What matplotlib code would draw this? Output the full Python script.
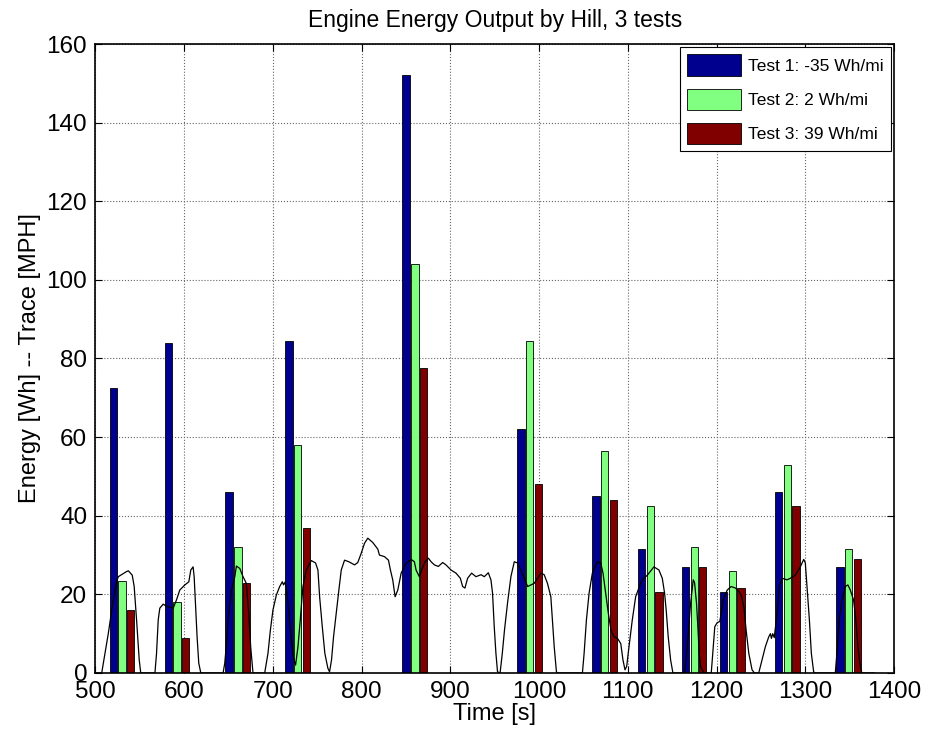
import numpy as np
import matplotlib.pyplot as plt

# hill centres (s) and energy per test (Wh)
hill_time = [530, 592, 660.5, 728, 860, 989.5, 1074, 1125.5, 1175, 1218, 1280, 1349]
test1 = [72.5, 84, 46, 84.5, 152, 62, 45, 31.5, 27, 20.5, 46, 27]
test2 = [23.5, 18, 32, 58, 104, 84.5, 56.5, 42.5, 32, 26, 53, 31.5]
test3 = [16, 9, 23, 37, 77.5, 48, 44, 20.5, 27, 21.5, 42.5, 29]
labels = ['Test 1: -35 Wh/mi', 'Test 2: 2 Wh/mi', 'Test 3: 39 Wh/mi']
colors = ['#00008F', '#80FF80', '#800000']

# drive trace speed (MPH) vs time (s)
trace_t = [500, 507, 510.7, 514.4, 519, 523.8, 525.7, 535, 537, 541.4, 543.6, 546.3, 549.3, 551,
           567, 568.8, 570.7, 572.5, 576.3, 580, 587.6, 591.3, 595, 600.7, 605.2, 607.4, 610, 611.2,
           612.7, 614.5, 616.4, 618.7, 643.8, 645.7, 647.6, 649.4, 653.2, 657, 658.8, 662.6, 666.3,
           670, 672.7, 674.9, 677.5, 690.7, 694.4, 697.1, 700, 703.8, 707.6, 710.6, 712, 714, 717,
           720, 723, 725.5, 728.2, 730.8, 733.8, 737.6, 743.2, 748, 750.7, 752.6, 755.6, 758.5,
           761.9, 763.8, 766, 768.3, 771.3, 774.3, 777, 780.7, 785.5, 792, 795.6, 799.4, 803.2,
           806.9, 812.5, 818.2, 820, 825.7, 830.2, 832.4, 835, 837.7, 840.7, 844.5, 850, 855.7,
           859.4, 861.3, 865, 867.6, 871.4, 875.2, 878.2, 882, 886.4, 891.3, 895, 900.7, 906.3,
           911.2, 913.8, 916.4, 919.4, 923.9, 928.8, 934.5, 938.2, 942.7, 945.7, 947.5, 949.4,
           951.3, 953.1, 956, 958.5, 961, 964.5, 968.2, 972, 975.6, 979.5, 983.2, 987, 990.7,
           994.4, 998.2, 1002, 1005.7, 1009.4, 1013.2, 1015, 1017, 1019.5, 1021, 1048.8, 1050.7,
           1053.3, 1056.3, 1060, 1065.6, 1069.4, 1072, 1075, 1078, 1081, 1084.4, 1088.3, 1092,
           1094.5, 1096.8, 1098.7, 1101.3, 1105, 1108.8, 1112.5, 1116.3, 1122, 1129.4, 1135,
           1138.8, 1141.4, 1143.2, 1145.5, 1148.2, 1150.8, 1164, 1166.9, 1170.7, 1173.7, 1175.2,
           1177.4, 1178.9, 1180.4, 1182, 1185.7, 1194, 1196.2, 1198, 1200.7, 1203.6, 1205.2,
           1207.4, 1212, 1216.4, 1221.3, 1225, 1227.7, 1230.7, 1233.3, 1236.3, 1240, 1242.7,
           1247.5, 1251.2, 1255, 1258.8, 1260.7, 1261.8, 1263.3, 1265, 1268.2, 1270.8, 1273.8,
           1279.4, 1283.2, 1288.8, 1294.4, 1298.2, 1300, 1301.9, 1304.6, 1306.8, 1309.4, 1311,
           1333.8, 1335.6, 1338.3, 1341.3, 1345, 1348, 1350.7, 1354.4, 1357, 1359.3, 1362,
           1363.8, 1378]
trace_v = [0, 0, 5, 10, 17, 23.2, 24.5, 25.8, 26, 24.9, 22, 13.5, 3.3, 0,
           0, 5, 13.5, 16.5, 17.5, 17, 16.5, 18.6, 21.1, 22.4, 23.2, 26.2, 27, 24.5,
           17.7, 9.2, 2.5, 0, 0, 2.5, 7.5, 13.5, 21.1, 24.5, 27.2, 26.6, 24.5,
           22.8, 15.2, 6.7, 0, 0, 5, 10.9, 16, 19.8, 22, 23.2, 22.4, 23.2, 18,
           10, 4, 2, 6.7, 13.5, 22, 26.2, 28.6, 28, 26.2, 19.4, 11.8, 5,
           1.2, 0.3, 3.3, 9.2, 15.2, 21.1, 26.2, 28.7, 28.3, 27.5, 28.1, 30.4, 33,
           34.3, 33.2, 31.5, 30, 29.6, 28.7, 26.2, 23.7, 19.4, 21.1, 25.4, 27.9, 28.9,
           28.3, 26.2, 24.5, 26.2, 28.3, 29.2, 28.3, 27.5, 27.1, 28.1, 27.5, 26.2, 25.4,
           24.1, 22, 21.6, 24.1, 25.4, 24.5, 25, 24.5, 25.5, 23.7, 20.3, 11.8,
           5, 0.3, 0, 5, 11, 18, 24.5, 28.3, 28, 26.2, 24.1, 22, 22.4,
           22.8, 24.1, 25.4, 25, 22.8, 19.4, 13.5, 6.7, 0.3, 0, 0, 5,
           13.5, 20.3, 25.4, 28.3, 28, 25.4, 20.3, 15.2, 10.9, 9.2, 8.8, 7.5,
           3.3, 0.8, 1.7, 6.7, 13.5, 19.4, 21.7, 23.7, 24.9, 27, 26.2,
           24.1, 20.3, 16, 9.2, 3.3, 0, 0, 6.7, 17.7, 23.7, 23,
           17.7, 11.8, 5, 1.6, 0, 0, 6.7, 11.8, 12.8, 13.1, 15.2,
           18.6, 21.1, 22, 21.6, 20.8, 19.8, 16.9, 10.9, 5, 0.8, 0,
           0, 3.3, 6.7, 9.2, 10, 8.8, 10, 9, 15.2, 22, 24.1,
           23.7, 24.1, 24.9, 27, 28.9, 28, 22, 13.5, 5, 0.3, 0,
           0, 5, 13.5, 18.6, 22, 22.4, 21.1, 18.6, 13.5, 6.7, 1.6,
           0, 0]

plt.rcParams['font.family'] = ['Liberation Sans', 'DejaVu Sans']

fig = plt.figure(figsize=(9.28, 7.42), dpi=100)
ax = fig.add_axes([0.1029, 0.093, 0.8605, 0.8477])

x = np.array(hill_time)
offsets = [-10, 0, 9.5]
for vals, off, col, lab in zip([test1, test2, test3], offsets, colors, labels):
    ax.bar(x + off, vals, width=8.2, color=col, edgecolor='black', linewidth=0.6,
           label=lab, zorder=2)

ax.plot(trace_t, trace_v, color='black', linewidth=0.9, zorder=3)

ax.set_xlim(500, 1400)
ax.set_ylim(0, 160)
ax.set_xticks(np.arange(500, 1401, 100))
ax.set_yticks(np.arange(0, 161, 20))
ax.grid(True, linestyle=':', color='0.4', linewidth=0.8)
ax.set_axisbelow(True)
ax.tick_params(direction='in', top=True, right=True, length=5, width=0.8,
               labelsize=17.5)
ax.tick_params(axis='x', pad=6)
ax.tick_params(axis='y', pad=6)
for s in ax.spines.values():
    s.set_linewidth(1.2)

ax.set_title('Engine Energy Output by Hill, 3 tests', fontsize=16.5, pad=12)
ax.set_xlabel('Time [s]', fontsize=17, labelpad=0)
ax.set_ylabel('Energy [Wh] -- Trace [MPH]', fontsize=17, labelpad=4)

leg = ax.legend(loc='upper right', fontsize=12.5, fancybox=False, framealpha=1,
                edgecolor='black', handlelength=3.1, handleheight=1.5,
                borderaxespad=0.2, labelspacing=0.75, handletextpad=0.4,
                borderpad=0.4)
leg.get_frame().set_linewidth(0.8)

fig.savefig('out.png', dpi=100)
